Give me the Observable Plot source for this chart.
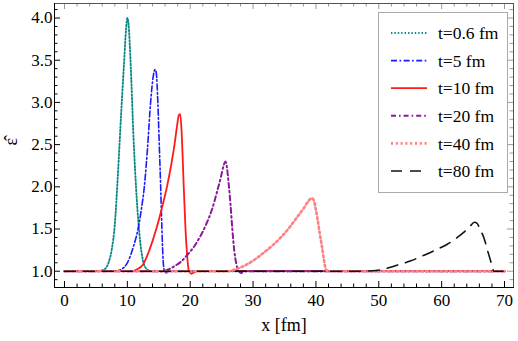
<!DOCTYPE html>
<html>
<head>
<meta charset="utf-8">
<script src="https://cdn.jsdelivr.net/npm/d3@7"></script>
<script src="https://cdn.jsdelivr.net/npm/@observablehq/plot@0.6"></script>
<style>
  html, body { margin: 0; padding: 0; background: #fff; }
  #wrap { position: relative; width: 518px; height: 341px; font-family: 'Liberation Serif', serif; }
  #legend { position: absolute; left: 378px; top: 12px; width: 128px; height: 179px; border: 1px solid #aaa; background: #fff; }
</style>
</head>
<body>
<div id="wrap"></div>
<script>
// ---- data ----
const seriesNames = ["t=0.6 fm", "t=5 fm", "t=10 fm", "t=20 fm", "t=40 fm", "t=80 fm"];

const t06 = [[0,1],[5,1],[6,1.01],[6.5,1.03],[7,1.1],[7.5,1.25],[8,1.55],[8.5,2.15],[9,2.85],[9.5,3.5],[9.8,3.88],[10,4.0],[10.2,3.92],[10.5,3.5],[11,2.55],[11.5,1.85],[12,1.38],[12.5,1.12],[13,1.03],[13.5,1.005],[14,1],[70,1]];
const t5 = [[0,1],[8,1],[9,1.02],[10,1.1],[11,1.3],[11.7,1.5],[12.2,1.72],[12.7,2.0],[13.2,2.45],[13.7,3.0],[14.1,3.3],[14.4,3.39],[14.6,3.35],[14.85,3.0],[15.1,2.45],[15.3,2.0],[15.5,1.5],[15.7,1.12],[15.9,1.0],[16.2,0.98],[16.6,1.0],[70,1]];
const t10 = [[0,1],[10.5,1],[11.5,1.02],[12.5,1.08],[13.5,1.25],[14.6,1.5],[15.5,1.75],[16.3,2.0],[17,2.27],[17.5,2.5],[17.9,2.72],[18.2,2.85],[18.4,2.86],[18.6,2.7],[18.8,2.35],[18.97,2.0],[19.25,1.5],[19.5,1.2],[19.8,1.0],[20.2,0.97],[20.7,0.99],[21.2,1.0],[70,1]];
const t20 = [[0,1],[15.5,1],[16.5,1.02],[17.5,1.06],[18.5,1.11],[19.5,1.19],[20.5,1.28],[21.5,1.4],[22.5,1.55],[23.5,1.74],[24.3,1.95],[24.9,2.12],[25.3,2.25],[25.6,2.3],[25.8,2.25],[26.1,2.05],[26.4,1.8],[26.7,1.5],[27.0,1.25],[27.3,1.1],[27.7,1.0],[28.1,0.98],[28.6,1.0],[70,1]];
const t40 = [[0,1],[26,1],[27.5,1.03],[29,1.08],[30.5,1.15],[31.7,1.22],[33,1.3],[34.4,1.4],[35.7,1.51],[37,1.64],[38,1.74],[38.8,1.83],[39.3,1.865],[39.6,1.85],[39.9,1.76],[40.2,1.64],[40.6,1.45],[41,1.27],[41.3,1.12],[41.6,1.02],[42,1],[70,1]];
const t80 = [[0,1],[47,1],[49,1.005],[50.5,1.02],[52.4,1.06],[55,1.12],[57.2,1.19],[59,1.25],[60.9,1.32],[62.5,1.4],[63.5,1.46],[64.5,1.53],[65.2,1.58],[65.6,1.57],[66.1,1.5],[66.7,1.4],[67.4,1.22],[68,1.07],[68.3,1.0],[70,1]];

const xMajorTicks = [0, 10, 20, 30, 40, 50, 60, 70];
const xMinorTicks = d3.range(0, 71, 2).filter(v => v % 10 !== 0);
const yMajorTicks = [1.0, 1.5, 2.0, 2.5, 3.0, 3.5, 4.0];
const yMinorTicks = d3.range(9, 42, 1).map(v => v / 10).filter(v => Math.round(v * 10) % 5 !== 0);
const xDomain = [-1.59, 71.43];
const yDomain = [0.807, 4.172];

// ---- styles ----
const styles = [
  {stroke: "#0e8a8a", strokeWidth: 1.9, strokeDasharray: "1.4,2"},
  {stroke: "#1a1aff", strokeWidth: 1.6, strokeDasharray: "6,2.5,1.6,2.5"},
  {stroke: "#ff1a1a", strokeWidth: 1.8, strokeDasharray: null},
  {stroke: "#8a1a9a", strokeWidth: 2, strokeDasharray: "5,3,1.6,3"},
  {stroke: "#ff8080", strokeWidth: 2.6, strokeDasharray: "2,2.8"},
  {stroke: "#111111", strokeWidth: 1.6, strokeDasharray: "11,8"}
];
const seriesData = [t06, t5, t10, t20, t40, t80];

const W = 518, H = 341;
const mt = 3, mr = 5, mb = 54, ml = 54;
const innerW = W - ml - mr, innerH = H - mt - mb;
const font = "Liberation Serif";

const marks = [];
seriesData.forEach((s, i) => {
  marks.push(Plot.line(s, {x: d => d[0], y: d => d[1], curve: "monotone-x",
    stroke: styles[i].stroke, strokeWidth: styles[i].strokeWidth,
    strokeDasharray: styles[i].strokeDasharray || undefined, strokeLinejoin: "round"}));
});

// ticks (inward, Mathematica-style frame)
const majL = 6, minL = 3.5;
marks.push(
  Plot.tickX(xMajorTicks, {x: d => d, insetTop: innerH - majL, stroke: "#000"}),
  Plot.tickX(xMinorTicks, {x: d => d, insetTop: innerH - minL, stroke: "#000"}),
  Plot.tickX(xMajorTicks, {x: d => d, insetBottom: innerH - majL, stroke: "#999"}),
  Plot.tickX(xMinorTicks, {x: d => d, insetBottom: innerH - minL, stroke: "#999"}),
  Plot.tickY(yMajorTicks, {y: d => d, insetRight: innerW - majL, stroke: "#000"}),
  Plot.tickY(yMinorTicks, {y: d => d, insetRight: innerW - minL, stroke: "#000"}),
  Plot.tickY(yMajorTicks, {y: d => d, insetLeft: innerW - majL, stroke: "#999"}),
  Plot.tickY(yMinorTicks, {y: d => d, insetLeft: innerW - minL, stroke: "#999"}),
  Plot.frame({stroke: "#555"}),
  Plot.frame({anchor: "left", stroke: "#000"}),
  Plot.frame({anchor: "bottom", stroke: "#000"}),
  Plot.axisX(xMajorTicks, {tickSize: 0, tickPadding: 6, fontSize: 17, fontFamily: font, label: null, tickFormat: d => String(d)}),
  Plot.axisY(yMajorTicks, {tickSize: 0, tickPadding: 2, fontSize: 17, fontFamily: font, label: null, tickFormat: d => d.toFixed(1)}),
  Plot.text(["x [fm]"], {frameAnchor: "bottom", dy: 43, fontSize: 18, fontFamily: font, fill: "#000"}),
  Plot.text(["\u03B5\u0302"], {frameAnchor: "left", dx: -43, dy: 0, rotate: -90, fontSize: 18, fontFamily: font, fill: "#000"})
);

const chart = Plot.plot({
  width: W, height: H,
  marginTop: mt, marginRight: mr, marginBottom: mb, marginLeft: ml,
  x: {domain: xDomain},
  y: {domain: yDomain},
  style: {fontFamily: "'Liberation Serif', serif", color: "#000", background: "#fff", overflow: "visible"},
  marks
});

const wrap = document.getElementById("wrap");
wrap.appendChild(chart);

// legend overlay
const leg = document.createElement("div");
leg.id = "legend";
wrap.appendChild(leg);
const lsvg = d3.select(leg).append("svg").attr("width", 128).attr("height", 179);
seriesNames.forEach((name, i) => {
  const cy = 20 + i * 27.6;
  const st = styles[i];
  lsvg.append("line").attr("x1", 12).attr("x2", 48).attr("y1", cy).attr("y2", cy)
    .attr("stroke", st.stroke).attr("stroke-width", st.strokeWidth)
    .attr("stroke-dasharray", st.strokeDasharray);
  lsvg.append("text").attr("x", 59).attr("y", cy).attr("dy", "0.35em")
    .attr("font-family", font).attr("font-size", 17.5).attr("fill", "#000").text(name);
});

// make sure every text element uses the serif face
document.querySelectorAll("#wrap text, #wrap tspan").forEach(t => {
  t.setAttribute("font-family", "Liberation Serif");
  t.style.setProperty("font-family", "'Liberation Serif', serif", "important");
});
</script>
</body>
</html>
